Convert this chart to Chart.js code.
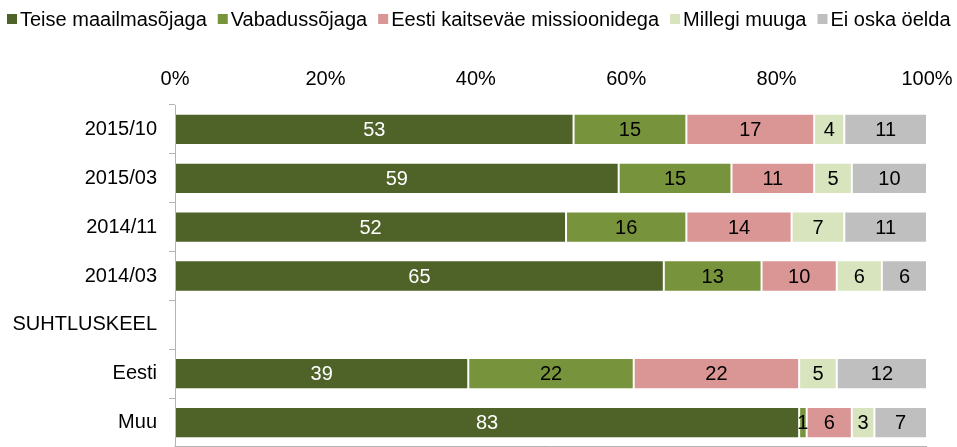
<!DOCTYPE html>
<html>
<head>
<meta charset="utf-8">
<script src="https://cdn.jsdelivr.net/npm/chart.js@4/dist/chart.umd.min.js"></script>
<style>
  html, body { margin: 0; padding: 0; background: #fff; overflow: hidden; }
  #wrap { position: relative; width: 957px; height: 447px; }
</style>
</head>
<body>
<div id="wrap"><canvas id="chart"></canvas></div>
<script>
const categories = ["2015/10", "2015/03", "2014/11", "2014/03", "SUHTLUSKEEL", "Eesti", "Muu"];
const seriesNames = ["Teise maailmasõjaga", "Vabadussõjaga", "Eesti kaitseväe missioonidega", "Millegi muuga", "Ei oska öelda"];
const teiseMaailmasoja = [53, 59, 52, 65, null, 39, 83];
const vabadussoja = [15, 15, 16, 13, null, 22, 1];
const missioonid = [17, 11, 14, 10, null, 22, 6];
const millegiMuuga = [4, 5, 7, 6, null, 5, 3];
const eiOskaOelda = [11, 10, 11, 6, null, 12, 7];
const percentTicks = [0, 20, 40, 60, 80, 100];

const colors = ["#4f6228", "#77933c", "#d99694", "#d7e4bd", "#bfbfbf"];
const labelColors = ["#ffffff", "#000000", "#000000", "#000000", "#000000"];
const FONT = "'Liberation Sans', Arial, sans-serif";
const FONT_SIZE = 20;

const seriesData = [teiseMaailmasoja, vabadussoja, missioonid, millegiMuuga, eiOskaOelda];

// scales keep a fixed size and ask the layout for no extra edge room
function fixSize(dim, size) {
  return scale => {
    scale[dim] = size;
    scale.paddingLeft = scale.paddingRight = scale.paddingTop = scale.paddingBottom = 0;
  };
}

// legend row across the top, squares tight against their text
const topLegend = {
  id: "topLegend",
  afterDraw(chart) {
    const ctx = chart.ctx;
    ctx.save();
    ctx.font = FONT_SIZE + "px " + FONT;
    ctx.textBaseline = "middle";
    ctx.textAlign = "left";
    let x = 7;
    const y = 19;
    chart.data.datasets.forEach(ds => {
      ctx.fillStyle = ds.backgroundColor;
      ctx.fillRect(x, y - 5, 10, 10);
      ctx.fillStyle = "#000";
      ctx.fillText(ds.label, x + 13, y + 1);
      x += 13 + ctx.measureText(ds.label).width + 11;
    });
    ctx.restore();
  }
};

// value labels in the middle of each segment, plus the bottom frame line
const segmentLabels = {
  id: "segmentLabels",
  afterDatasetsDraw(chart) {
    const ctx = chart.ctx;
    const area = chart.chartArea;
    ctx.save();
    ctx.strokeStyle = "#b3b3b3";
    ctx.lineWidth = 1;
    ctx.beginPath();
    ctx.moveTo(area.left - 0.5, area.bottom - 0.5);
    ctx.lineTo(area.right, area.bottom - 0.5);
    ctx.stroke();

    ctx.font = FONT_SIZE + "px " + FONT;
    ctx.textAlign = "center";
    ctx.textBaseline = "middle";
    chart.data.datasets.forEach((ds, i) => {
      chart.getDatasetMeta(i).data.forEach((bar, j) => {
        const v = ds.data[j];
        if (v == null) return;
        const cx = (bar.x + bar.base) / 2;
        ctx.fillStyle = labelColors[i];
        ctx.fillText(String(v), cx, bar.y + 1);
      });
    });
    ctx.restore();
  }
};

new Chart(document.getElementById("chart"), {
  type: "bar",
  data: {
    labels: categories,
    datasets: seriesData.map((d, i) => ({
      label: seriesNames[i],
      data: d,
      backgroundColor: colors[i],
      borderColor: "rgba(255,255,255,0.15)",
      borderWidth: 1,
      borderSkipped: false,
      categoryPercentage: 1,
      barPercentage: 0.64
    }))
  },
  options: {
    indexAxis: "y",
    responsive: true,
    maintainAspectRatio: false,
    animation: false,
    layout: { padding: { top: 40, left: 0, right: 30, bottom: 0 } },
    plugins: {
      legend: { display: false },
      tooltip: { enabled: false }
    },
    scales: {
      x: {
        position: "top",
        stacked: true,
        min: 0,
        max: 100,
        afterFit: fixSize("height", 65),
        afterBuildTicks(scale) { scale.ticks = percentTicks.map(v => ({ value: v })); },
        grid: { display: false, drawTicks: false },
        border: { display: false },
        ticks: {
          padding: 14,
          color: "#000",
          font: { family: FONT, size: FONT_SIZE },
          callback: v => v + "%"
        }
      },
      y: {
        stacked: true,
        afterFit: fixSize("width", 175),
        grid: {
          drawOnChartArea: false,
          drawTicks: true,
          tickLength: 6,
          color: "#b3b3b3"
        },
        border: { display: true, color: "#b3b3b3" },
        ticks: {
          padding: 12,
          color: "#000",
          font: { family: FONT, size: FONT_SIZE }
        }
      }
    }
  },
  plugins: [topLegend, segmentLabels]
});
</script>
</body>
</html>
